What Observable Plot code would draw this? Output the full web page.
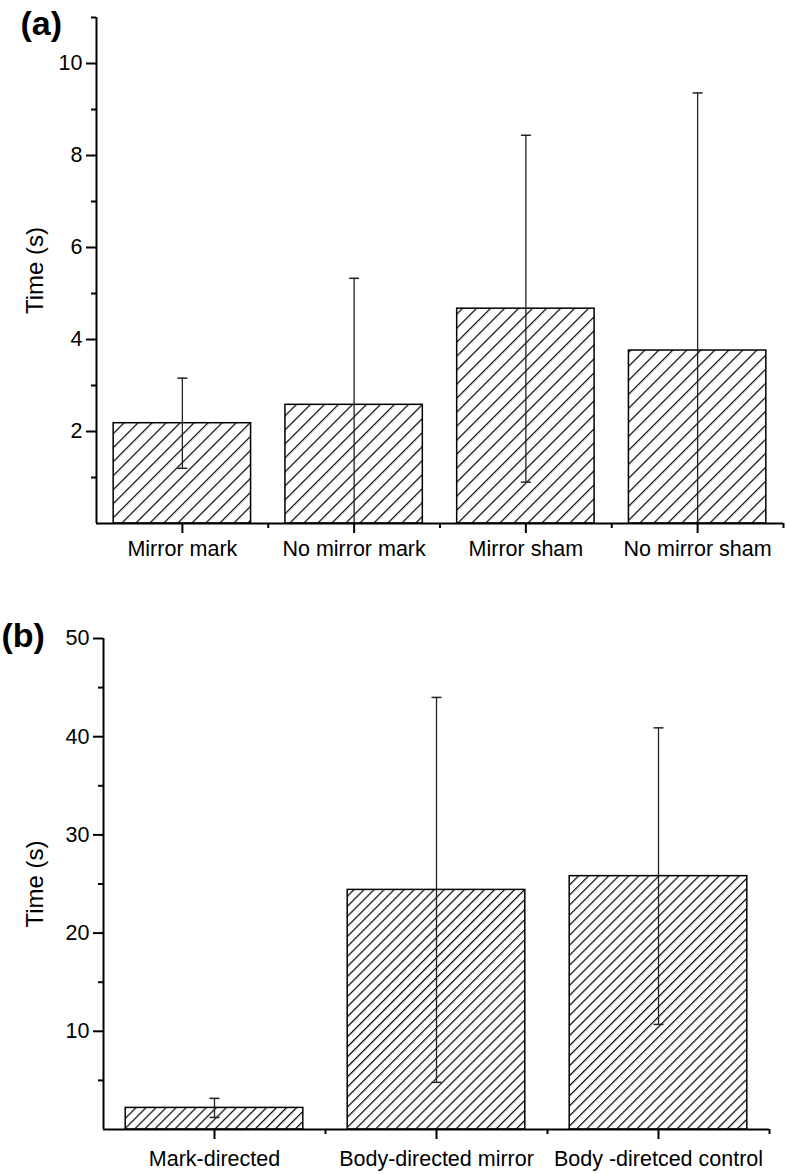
<!DOCTYPE html>
<html>
<head>
<meta charset="utf-8">
<script src="https://cdn.jsdelivr.net/npm/d3@7"></script>
<script src="https://cdn.jsdelivr.net/npm/@observablehq/plot@0.6"></script>
<style>
  html, body { margin: 0; padding: 0; background: white; overflow: hidden; }
  #wrap { width: 786px; }
  #wrap svg { display: block; }
</style>
</head>
<body>
<div id="wrap"></div>
<script>
// Panel (a)
const catsA = ["Mirror mark", "No mirror mark", "Mirror sham", "No mirror sham"];
const meanA = [2.18, 2.58, 4.67, 3.76];
const errA = [0.98, 2.75, 3.77, 5.6];
const yTicksA = [2, 4, 6, 8, 10];
const yMinorA = [1, 3, 5, 7, 9, 11];

// Panel (b)
const catsB = ["Mark-directed", "Body-directed mirror", "Body -diretced control"];
const meanB = [2.2, 24.4, 25.8];
const errB = [0.97, 19.6, 15.1];
const yTicksB = [10, 20, 30, 40, 50];
const yMinorB = [5, 15, 25, 35, 45];

const FONT = "Liberation Sans, Arial, Helvetica, sans-serif";
const capSymbol = {
  draw(ctx, size) {
    const r = Math.sqrt(size / Math.PI);
    ctx.moveTo(-r, 0);
    ctx.lineTo(r, 0);
  }
};

function addHatch(svg, id, w) {
  const ns = "http://www.w3.org/2000/svg";
  const defs = document.createElementNS(ns, "defs");
  const pat = document.createElementNS(ns, "pattern");
  pat.setAttribute("id", id);
  pat.setAttribute("patternUnits", "userSpaceOnUse");
  pat.setAttribute("width", w);
  pat.setAttribute("height", w);
  pat.setAttribute("patternTransform", "rotate(45)");
  const bg = document.createElementNS(ns, "rect");
  bg.setAttribute("width", w);
  bg.setAttribute("height", w);
  bg.setAttribute("fill", "white");
  const ln = document.createElementNS(ns, "line");
  ln.setAttribute("x1", 0.6);
  ln.setAttribute("y1", 0);
  ln.setAttribute("x2", 0.6);
  ln.setAttribute("y2", w);
  ln.setAttribute("stroke", "black");
  ln.setAttribute("stroke-width", 1.2);
  pat.appendChild(bg);
  pat.appendChild(ln);
  defs.appendChild(pat);
  svg.insertBefore(defs, svg.firstChild);
}

function panel({cats, mean, err, yTicks, yMinor, yMax, height, margins, hatchId, hatchW, tag, tagDx, tagDy, labelPad}) {
  const data = cats.map((c, i) => ({
    i, c, mean: mean[i],
    lo: Math.max(0, mean[i] - err[i]),
    hi: mean[i] + err[i],
    hasLo: mean[i] - err[i] > 0
  }));
  const n = cats.length;
  const centers = d3.range(n).map(i => i + 0.5);
  const bounds = d3.range(1, n + 1);
  const svg = Plot.plot({
    width: 786,
    height,
    ...margins,
    style: {fontFamily: FONT, fontSize: "21.5px", color: "black", background: "white"},
    x: {domain: [0, n]},
    y: {domain: [0, yMax]},
    marks: [
      Plot.rectY(data, {
        x1: d => d.i + 0.1, x2: d => d.i + 0.9, y: "mean",
        fill: `url(#${hatchId})`, stroke: "black", strokeWidth: 1.5
      }),
      Plot.ruleX(data, {x: d => d.i + 0.5, y1: "lo", y2: "hi", stroke: "#222", strokeWidth: 1.3}),
      Plot.dot(data, {x: d => d.i + 0.5, y: "hi", symbol: capSymbol, r: 5, stroke: "#222", strokeWidth: 1.5, fill: "none"}),
      Plot.dot(data.filter(d => d.hasLo), {x: d => d.i + 0.5, y: "lo", symbol: capSymbol, r: 5, stroke: "#222", strokeWidth: 1.5, fill: "none"}),
      Plot.ruleY([0], {stroke: "black", strokeWidth: 2}),
      Plot.ruleX([0], {stroke: "black", strokeWidth: 2}),
      Plot.axisY({ticks: yTicks, tickSize: 10, tickPadding: 4, strokeWidth: 2, fontSize: 21.5, label: null, tickFormat: d => String(d)}),
      Plot.axisY({ticks: yMinor, tickSize: 5, strokeWidth: 2, label: null, tickFormat: () => ""}),
      Plot.axisX({ticks: centers, tickSize: 10, tickPadding: labelPad, strokeWidth: 2, fontSize: 21.5, label: null, tickFormat: d => cats[Math.floor(d)]}),
      Plot.axisX({ticks: bounds, tickSize: 5, strokeWidth: 2, label: null, tickFormat: () => ""}),
      Plot.text(["Time (s)"], {frameAnchor: "left", textAnchor: "middle", dx: -(margins.marginLeft - 35), rotate: -90, fontSize: 24, fill: "black"}),
      Plot.text([tag], {frameAnchor: "top-left", textAnchor: "start", lineAnchor: "middle", dx: tagDx, dy: tagDy, fontSize: 34, fontWeight: "bold", fill: "black"})
    ]
  });
  addHatch(svg, hatchId, hatchW);
  return svg;
}

const wrap = document.getElementById("wrap");
wrap.appendChild(panel({
  cats: catsA, mean: meanA, err: errA, yTicks: yTicksA, yMinor: yMinorA, yMax: 11,
  height: 580,
  margins: {marginLeft: 96, marginTop: 17, marginBottom: 57, marginRight: 3},
  hatchId: "hatchA", hatchW: 9.9, tag: "(a)", tagDx: -76, tagDy: 7, labelPad: 7
}));
wrap.appendChild(panel({
  cats: catsB, mean: meanB, err: errB, yTicks: yTicksB, yMinor: yMinorB, yMax: 50,
  height: 594,
  margins: {marginLeft: 103, marginTop: 58, marginBottom: 45, marginRight: 17},
  hatchId: "hatchB", hatchW: 7.1, tag: "(b)", tagDx: -102, tagDy: -2, labelPad: 11
}));
</script>
</body>
</html>
